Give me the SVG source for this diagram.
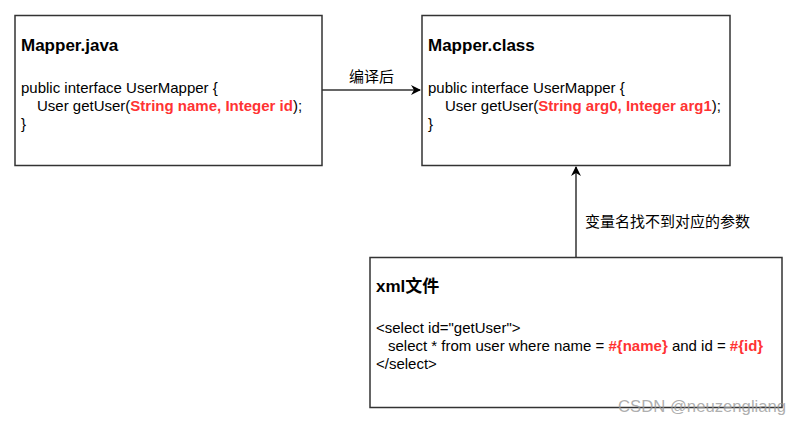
<svg xmlns="http://www.w3.org/2000/svg" width="801" height="425" viewBox="0 0 801 425">
<defs>
<style>
.box{fill:#ffffff;stroke:#333333;stroke-width:1.5}
.t{font-family:"Liberation Sans",Arial,"Noto Sans CJK SC",sans-serif;font-size:15px;fill:#000000}
.h{font-family:"Liberation Sans",Arial,"Noto Sans CJK SC",sans-serif;font-size:17px;font-weight:bold;fill:#000000}
.r{fill:#ff3333;font-weight:bold}
.lbl{font-family:"Noto Sans CJK SC","Liberation Sans",sans-serif;font-size:15px;fill:#000000}
.edge{fill:none;stroke:#333333;stroke-width:1.5}
.wm{font-family:"Liberation Sans",Arial,sans-serif;font-size:16.7px;fill:#999999;fill-opacity:0.8}
</style>
<marker id="arr" viewBox="0 0 10 10" refX="9" refY="5" markerWidth="10" markerHeight="10" markerUnits="userSpaceOnUse" orient="auto">
<path d="M0,0 L10,5 L0,10 L3,5 Z" fill="#000000"/>
</marker>
</defs>
<rect width="801" height="425" fill="#ffffff"/>
<g id="connectors">
<path class="edge" d="M322,90 L420,90" marker-end="url(#arr)"/>
<path class="edge" d="M576,257 L576,167" marker-end="url(#arr)"/>
<text class="lbl" x="349" y="82">编译后</text>
<text class="lbl" x="585" y="227">变量名找不到对应的参数</text>
</g>
<g id="mapper-java">
<rect class="box" x="15" y="15.5" width="307" height="150"/>
<text class="h" x="21" y="51">Mapper.java</text>
<text class="t" x="21" y="93">public interface UserMapper {</text>
<text class="t" x="37" y="111">User getUser(<tspan class="r">String name, Integer id</tspan>);</text>
<text class="t" x="21" y="129">}</text>
</g>
<g id="mapper-class">
<rect class="box" x="422" y="15.5" width="308" height="150"/>
<text class="h" x="428" y="51">Mapper.class</text>
<text class="t" x="428" y="93">public interface UserMapper {</text>
<text class="t" x="445" y="111">User getUser(<tspan class="r">String arg0, Integer arg1</tspan>);</text>
<text class="t" x="428" y="129">}</text>
</g>
<g id="xml-file">
<rect class="box" x="370" y="257.5" width="412" height="150"/>
<text class="h" x="376" y="292">xml文件</text>
<text class="t" x="376" y="333">&lt;select id="getUser"&gt;</text>
<text class="t" x="388" y="351">select * from user where name = <tspan class="r">#{name}</tspan> and id = <tspan class="r">#{id}</tspan></text>
<text class="t" x="376" y="369">&lt;/select&gt;</text>
</g>
<text class="wm" x="618" y="412">CSDN @neuzengliang</text>
</svg>
